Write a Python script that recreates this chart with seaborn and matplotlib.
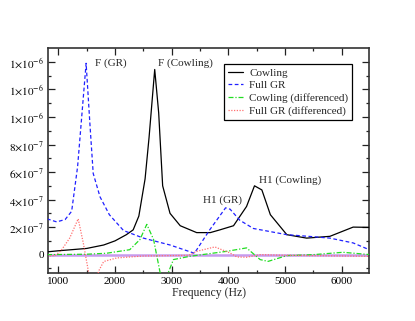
import pandas as pd
import matplotlib
matplotlib.use("Agg")
import matplotlib.pyplot as plt
import seaborn as sns

# ==========================
# Data (units of 1e-7)
# ==========================
cowling_f = [800, 1000, 1500, 1800, 2000, 2200, 2320, 2420, 2530, 2600, 2700,
             2770, 2840, 2970, 3150, 3440, 3680, 3850, 4090, 4320, 4460, 4590,
             4740, 5030, 5380, 5790, 6200, 6500]
cowling_v = [0.2, 0.28, 0.45, 0.7, 1.0, 1.45, 1.8, 2.8, 5.5, 8.5, 13.45,
             10.3, 5.0, 3.0, 2.1, 1.6, 1.6, 1.8, 2.1, 3.5, 5.0, 4.7,
             2.9, 1.45, 1.2, 1.33, 2.0, 1.98]

fullgr_f = [800, 970, 1120, 1235, 1340, 1490, 1560, 1615, 1735, 1900, 2150,
            2500, 2970, 3400, 3670, 3950, 4030, 4200, 4440, 5030, 5500, 5790,
            6200, 6500]
fullgr_v = [2.6, 2.38, 2.55, 3.15, 6.4, 13.9, 9.3, 5.9, 4.2, 2.9, 1.75,
            1.2, 0.7, 0.1, 1.8, 3.4, 3.3, 2.5, 1.9, 1.45, 1.3, 1.2,
            0.85, 0.33]

cowling_diff_f = [800, 1500, 1850, 2260, 2440, 2560, 2680, 2790, 2870, 2940,
                  3030, 3320, 3970, 4320, 4560, 4700, 5030, 5500, 6020, 6500]
cowling_diff_v = [0.0, 0.03, 0.1, 0.36, 1.1, 2.2, 1.1, -1.2, -2.8, -1.3,
                  -0.36, -0.12, 0.24, 0.49, -0.36, -0.49, -0.07, 0.0, 0.17, 0.0]

fullgr_diff_f = [800, 950, 1050, 1200, 1350, 1440, 1530, 1610, 1710, 1800,
                 2030, 2500, 3300, 3440, 3760, 4030, 4150, 4320, 4560, 5000, 6500]
fullgr_diff_v = [-0.12, -0.05, 0.3, 1.2, 2.6, 0.85, -1.2, -3.0, -1.2, -0.5,
                 -0.24, -0.1, -0.05, 0.24, 0.56, 0.12, -0.17, -0.19, 0.0, -0.05, -0.12]

y_ticks = [0, 2e-7, 4e-7, 6e-7, 8e-7, 1e-6, 1.2e-6, 1.4e-6]
y_labels = ["0", r"$2{\times}10^{-7}$", r"$4{\times}10^{-7}$", r"$6{\times}10^{-7}$",
            r"$8{\times}10^{-7}$", r"$1{\times}10^{-6}$", r"$1{\times}10^{-6}$",
            r"$1{\times}10^{-6}$"]
x_ticks = [1000, 2000, 3000, 4000, 5000, 6000]

# ==========================
# Style
# ==========================
sns.set_style("ticks")
plt.rcParams["font.family"] = ["Liberation Serif", "DejaVu Serif"]
plt.rcParams["mathtext.fontset"] = "stix"
plt.rcParams["font.size"] = 8

fig = plt.figure(figsize=(4.15, 3.21), dpi=100)
ax = fig.add_axes([0.1157, 0.151, 0.7735, 0.699])

ax.axhline(0, color="#c79bef", lw=1.8, zorder=1)

series = [
    ("Cowling", cowling_f, cowling_v, "black", "-"),
    ("Full GR", fullgr_f, fullgr_v, "#2020ff", (0, (3, 2))),
    ("Cowling (differenced)", cowling_diff_f, cowling_diff_v, "#22dd22", (0, (4, 1.5, 1, 1.5))),
    ("Full GR (differenced)", fullgr_diff_f, fullgr_diff_v, "#ff7070", (0, (1, 1.2))),
]
for name, f, v, col, ls in series:
    df = pd.DataFrame({"f": f, "v": [x * 1e-7 for x in v]})
    sns.lineplot(data=df, x="f", y="v", ax=ax, color=col, linestyle=ls,
                 lw=0.9, label=name, zorder=3)

ax.set_xlim(818, 6480)
ax.set_ylim(-1.3e-7, 1.5e-6)
ax.set_xticks(x_ticks)
ax.set_xticks([1500, 2500, 3500, 4500, 5500], minor=True)
ax.set_yticks(y_ticks)
ax.set_yticklabels(y_labels)
ax.set_yticks([-1e-7, 1e-7, 3e-7, 5e-7, 7e-7, 9e-7, 1.1e-6, 1.3e-6], minor=True)
ax.tick_params(which="both", direction="in", top=True, right=True, labelsize=8,
               width=0.9, colors="#222222", labelcolor="black")
ax.tick_params(which="major", length=5, pad=3)
ax.tick_params(which="minor", length=2.5)
for sp in ax.spines.values():
    sp.set_linewidth(1.2)
    sp.set_color("#333333")

ax.set_xlabel("Frequency (Hz)", fontsize=8.5, labelpad=1)
ax.set_ylabel("")

ax.text(1647, 1.39e-6, "F (GR)", fontsize=8, va="center")
ax.text(2758, 1.39e-6, "F (Cowling)", fontsize=8, va="center")
ax.text(3547, 3.95e-7, "H1 (GR)", fontsize=8, va="center")
ax.text(4540, 5.4e-7, "H1 (Cowling)", fontsize=8, va="center")

leg = ax.legend(loc="upper left", bbox_to_anchor=(0.549, 0.93), fontsize=8,
                frameon=True, fancybox=False, edgecolor="black", framealpha=1,
                handlelength=1.3, handletextpad=0.6, borderpad=0.35,
                labelspacing=0.25, borderaxespad=0)
leg.get_frame().set_linewidth(0.9)

fig.savefig("out.png", dpi=100)
